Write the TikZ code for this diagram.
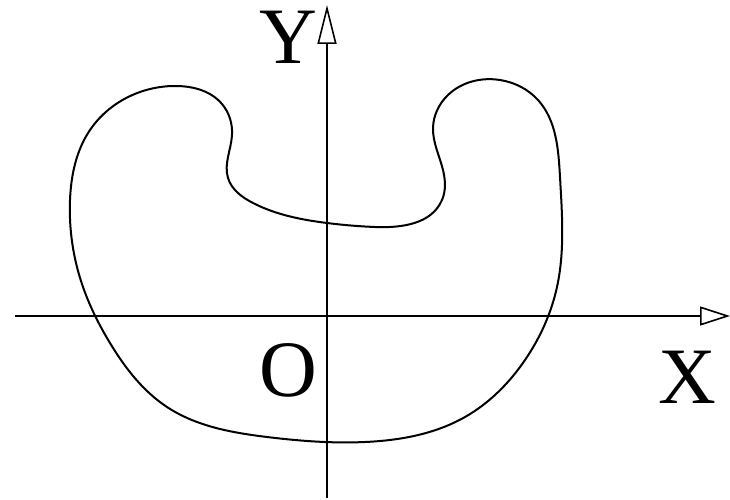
\documentclass[tikz,border=0pt]{standalone}
\usepackage{fontspec}
\setmainfont{Liberation Serif}
\usetikzlibrary{arrows.meta, hobby}
\tikzset{
  axis/.style   = {line width=1.8pt, -{Triangle[open, length=#1, width=19pt, line width=1.6pt]}},
  axis/.default = 30pt,
  curve/.style  = {line width=2pt, use Hobby shortcut, closed=true},
  lbl/.style    = {inner sep=0pt, font=\fontsize{80}{80}\selectfont},
}
\begin{document}
\begin{tikzpicture}[x=1pt, y=-1pt]

  \useasboundingbox (0,0) rectangle (730,500);

  % ── axes
  \coordinate (xs) at (15,316);
  \coordinate (xe) at (730,316);
  \coordinate (ys) at (327,498);
  \coordinate (ye) at (327,5);
  \draw[axis]      (xs) -- (xe);
  \draw[axis=39pt] (ys) -- (ye);

  % ── labels
  \node[lbl] (ylbl) at (288,37)  {Y};
  \node[lbl] (xlbl) at (687,377) {X};
  \node[lbl] (olbl) at (288,370) {O};

  % ── closed curve
  \draw[curve] (177,86) .. (222,104) .. (232,135) .. (228,178) .. (253,203)
    .. (327,223) .. (375,227) .. (442,200) .. (443,170) .. (433,128)
    .. (448,95) .. (500,80) .. (538,100) .. (560,177) .. (557,287)
    .. (525,360) .. (465,417) .. (365,442) .. (267,437) .. (167,407)
    .. (110,343) .. (83,287) .. (70,200) .. (90,130) .. (140,92);

\end{tikzpicture}
\end{document}
